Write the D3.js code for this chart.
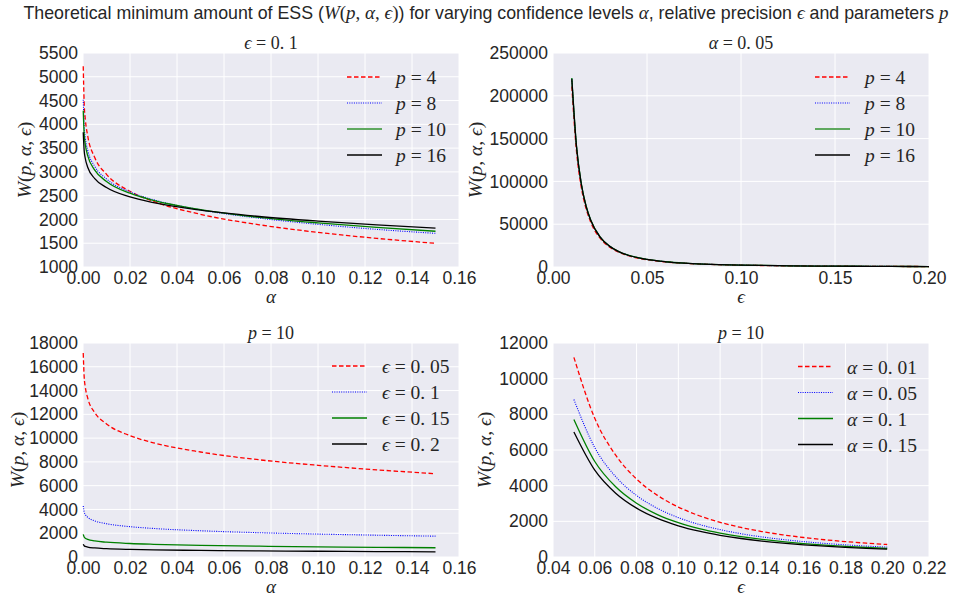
<!DOCTYPE html>
<html>
<head>
<meta charset="utf-8">
<script src="https://cdn.jsdelivr.net/npm/d3@7/dist/d3.min.js"></script>
<style>
  html, body { margin: 0; padding: 0; background: #ffffff; }
  svg { display: block; }
  .tick text { font-family: "Liberation Sans", Arial, sans-serif; font-size: 17.5px; fill: #262626; }
  .math { font-family: "Liberation Serif", "DejaVu Serif", serif; fill: #262626; }
</style>
</head>
<body>
<svg id="fig" width="957" height="596"></svg>
<script>
// ---- data ----
// confidence levels alpha used along the x axis of the left panels
const alphaGrid = [0.0001, 0.0005, 0.001, 0.002, 0.005, 0.01, 0.02, 0.03, 0.05, 0.075, 0.1, 0.125, 0.15];
// panel A: epsilon = 0.1, one curve per p
const essP4 = [5223, 4443, 4102, 3759, 3301, 2949, 2592, 2379, 2108, 1888, 1728, 1602, 1498];
const essP8 = [4518, 3956, 3708, 3456, 3116, 2852, 2579, 2414, 2201, 2027, 1897, 1791, 1708];
const essP10 = [4288, 3789, 3568, 3343, 3037, 2799, 2552, 2401, 2208, 2044, 1928, 1833, 1752];
const essP16 = [3835, 3447, 3276, 3099, 2860, 2671, 2473, 2353, 2195, 2062, 1965, 1885, 1818];

// relative precision epsilon used along the x axis of panel B
const epsGridB = [0.01, 0.0125, 0.015, 0.0175, 0.02, 0.025, 0.03, 0.035, 0.04, 0.05, 0.06, 0.07, 0.08, 0.1, 0.12, 0.14, 0.16, 0.18, 0.2];
// panel B: alpha = 0.05
const essBP4 = [210800, 134912, 93689, 68832, 52700, 33728, 23422, 17208, 13175, 8432, 5856, 4302, 3294, 2108, 1464, 1076, 823, 651, 527];
const essBP8 = [220100, 140864, 97822, 71869, 55025, 35216, 24456, 17967, 13756, 8804, 6114, 4492, 3439, 2201, 1528, 1123, 860, 679, 550];
const essBP10 = [220800, 141312, 98133, 72098, 55200, 35328, 24533, 18024, 13800, 8832, 6133, 4506, 3450, 2208, 1533, 1127, 863, 681, 552];
const essBP16 = [219500, 140480, 97556, 71673, 54875, 35120, 24389, 17918, 13719, 8780, 6097, 4480, 3430, 2195, 1524, 1120, 857, 677, 549];

// panel C: p = 10, one curve per epsilon
const essE05 = [17152, 15156, 14272, 13372, 12148, 11196, 10208, 9604, 8832, 8176, 7712, 7332, 7008];
const essE10 = [4288, 3789, 3568, 3343, 3037, 2799, 2552, 2401, 2208, 2044, 1928, 1833, 1752];
const essE15 = [1906, 1684, 1586, 1486, 1350, 1244, 1134, 1067, 981, 908, 857, 815, 779];
const essE20 = [1072, 947, 892, 836, 759, 700, 638, 600, 552, 511, 482, 458, 438];

// panel D: p = 10, one curve per alpha
const epsGridD = [0.05, 0.06, 0.07, 0.08, 0.09, 0.1, 0.11, 0.12, 0.13, 0.14, 0.15, 0.16, 0.17, 0.18, 0.19, 0.2];
const essA01 = [11196, 7775, 5712, 4373, 3456, 2799, 2313, 1944, 1656, 1428, 1244, 1093, 968, 864, 775, 700];
const essA05 = [8832, 6133, 4506, 3450, 2726, 2208, 1825, 1533, 1306, 1127, 981, 862, 764, 681, 612, 552];
const essA10 = [7712, 5356, 3935, 3013, 2380, 1928, 1593, 1339, 1141, 984, 857, 753, 667, 595, 534, 482];
const essA15 = [7008, 4867, 3576, 2738, 2163, 1752, 1448, 1217, 1037, 894, 779, 684, 606, 541, 485, 438];

// legend labels: [variable, value]
const legendA = [["p", "4"], ["p", "8"], ["p", "10"], ["p", "16"]];
const legendC = [["ϵ", "0. 05"], ["ϵ", "0. 1"], ["ϵ", "0. 15"], ["ϵ", "0. 2"]];
const legendD = [["α", "0. 01"], ["α", "0. 05"], ["α", "0. 1"], ["α", "0. 15"]];

// ---- styles for the four series ----
const styles = [
  { color: "#ff0000", dash: "4.5,2.5", width: 1.3 },
  { color: "#0000ff", dash: "1,1.3", width: 1.1 },
  { color: "#008000", dash: null, width: 1.3 },
  { color: "#000000", dash: null, width: 1.3 }
];

const panels = [
  { left: 83, top: 53, right: 459, bottom: 267,
    xDomain: [0, 0.16], xStep: 0.02, xFmt: ".2f",
    yDomain: [1000, 5500], yStep: 500,
    x: alphaGrid, series: [essP4, essP8, essP10, essP16],
    title: ["ϵ", "0. 1"], xlab: "α", legend: legendA,
    legX: 347, legY: 77, legDx: 49, ylabX: 25, softGreen: true },
  { left: 553, top: 53, right: 929, bottom: 267,
    xDomain: [0, 0.2], xStep: 0.05, xFmt: ".2f",
    yDomain: [0, 250000], yStep: 50000,
    x: epsGridB, series: [essBP4, essBP8, essBP10, essBP16],
    title: ["α", "0. 05"], xlab: "ϵ", legend: legendA,
    legX: 815, legY: 77, legDx: 50, ylabX: 476, softGreen: true },
  { left: 83, top: 343, right: 459, bottom: 557,
    xDomain: [0, 0.16], xStep: 0.02, xFmt: ".2f",
    yDomain: [0, 18000], yStep: 2000,
    x: alphaGrid, series: [essE05, essE10, essE15, essE20],
    title: ["p", "10"], xlab: "α", legend: legendC,
    legX: 332, legY: 366, legDx: 50, ylabX: 18, softGreen: false },
  { left: 553, top: 343, right: 929, bottom: 557,
    xDomain: [0.04, 0.22], xStep: 0.02, xFmt: ".2f",
    yDomain: [0, 12000], yStep: 2000,
    x: epsGridD, series: [essA01, essA05, essA10, essA15],
    title: ["p", "10"], xlab: "ϵ", legend: legendD,
    legX: 798, legY: 366.5, legDx: 49, ylabX: 485, softGreen: false }
];

const svg = d3.select("#fig");

// figure title with inline math
const title = svg.append("text")
  .attr("x", 486).attr("y", 19)
  .attr("text-anchor", "middle")
  .style("font-family", "'Liberation Sans', Arial, sans-serif")
  .style("font-size", "17.8px")
  .style("fill", "#262626");
const mathSpan = (sel, t, italic) => sel.append("tspan")
  .style("font-family", "'Liberation Serif', 'DejaVu Serif', serif")
  .style("font-style", italic ? "italic" : "normal")
  .style("font-size", "19px")
  .text(t);
title.append("tspan").text("Theoretical minimum amount of ESS (");
mathSpan(title, "W", true); mathSpan(title, "(", false); mathSpan(title, "p", true);
mathSpan(title, ", ", false); mathSpan(title, "α", true); mathSpan(title, ", ", false);
mathSpan(title, "ϵ", true); mathSpan(title, ")", false);
title.append("tspan").text(") for varying confidence levels ");
mathSpan(title, "α", true);
title.append("tspan").text(", relative precision ");
mathSpan(title, "ϵ", true);
title.append("tspan").text(" and parameters ");
mathSpan(title, "p", true);

function eqText(g, x, y, anchor, v, val, size) {
  const t = g.append("text").attr("class", "math")
    .attr("x", x).attr("y", y).attr("text-anchor", anchor)
    .style("font-size", size + "px");
  t.append("tspan").style("font-style", "italic").text(v);
  t.append("tspan").text(" = " + val);
  return t;
}

panels.forEach(P => {
  const g = svg.append("g");
  const x = d3.scaleLinear().domain(P.xDomain).range([P.left, P.right]);
  const y = d3.scaleLinear().domain(P.yDomain).range([P.bottom, P.top]);
  const xt = d3.range(P.xDomain[0], P.xDomain[1] + P.xStep / 2, P.xStep).map(v => +v.toFixed(6));
  const yt = d3.range(P.yDomain[0], P.yDomain[1] + P.yStep / 2, P.yStep);

  // plot background
  g.append("rect").attr("x", P.left).attr("y", P.top)
    .attr("width", P.right - P.left).attr("height", P.bottom - P.top)
    .attr("fill", "#eaeaf2");

  // grid
  g.append("g").selectAll("line.gx").data(xt).join("line")
    .attr("x1", d => x(d)).attr("x2", d => x(d))
    .attr("y1", P.top).attr("y2", P.bottom)
    .attr("stroke", "#ffffff").attr("stroke-width", 1);
  g.append("g").selectAll("line.gy").data(yt).join("line")
    .attr("x1", P.left).attr("x2", P.right)
    .attr("y1", d => y(d)).attr("y2", d => y(d))
    .attr("stroke", "#ffffff").attr("stroke-width", 1);

  // axes (labels only, no tick marks or spines)
  const xa = g.append("g").attr("transform", `translate(0,${P.bottom})`)
    .call(d3.axisBottom(x).tickValues(xt).tickFormat(d3.format(P.xFmt)).tickSize(0).tickPadding(5));
  xa.select(".domain").remove();
  const ya = g.append("g").attr("transform", `translate(${P.left},0)`)
    .call(d3.axisLeft(y).tickValues(yt).tickFormat(d3.format("d")).tickSize(0).tickPadding(5));
  ya.select(".domain").remove();

  // curves
  const line = d3.line().curve(d3.curveMonotoneX);
  P.series.forEach((vals, i) => {
    const s = styles[i];
    g.append("path")
      .attr("d", line(P.x.map((xv, k) => [x(xv), y(vals[k])])))
      .attr("fill", "none")
      .attr("stroke", s.color)
      .attr("stroke-width", s.width)
      .attr("stroke-dasharray", s.dash);
  });

  // panel title
  eqText(g, (P.left + P.right) / 2, P.top - 4, "middle", P.title[0], P.title[1], 18);

  // axis labels
  g.append("text").attr("class", "math")
    .attr("x", (P.left + P.right) / 2).attr("y", P.bottom + 36)
    .attr("text-anchor", "middle")
    .style("font-size", "19px").style("font-style", "italic")
    .text(P.xlab);
  const yl = g.append("text").attr("class", "math")
    .attr("transform", `translate(${P.ylabX + 6},${(P.top + P.bottom) / 2}) rotate(-90)`)
    .attr("text-anchor", "middle")
    .style("font-size", "19.5px");
  yl.append("tspan").style("font-style", "italic").text("W");
  yl.append("tspan").text("(");
  yl.append("tspan").style("font-style", "italic").text("p");
  yl.append("tspan").text(", ");
  yl.append("tspan").style("font-style", "italic").text("α");
  yl.append("tspan").text(", ");
  yl.append("tspan").style("font-style", "italic").text("ϵ");
  yl.append("tspan").text(")");

  // legend
  P.legend.forEach((item, i) => {
    const ly = P.legY + i * 26;
    const s = styles[i];
    const soft = P.softGreen && i === 2;
    g.append("line")
      .attr("x1", P.legX).attr("x2", P.legX + 35)
      .attr("y1", ly).attr("y2", ly)
      .attr("stroke", soft ? "#5fa85f" : s.color)
      .attr("stroke-width", soft ? 2.2 : s.width)
      .attr("stroke-dasharray", s.dash);
    eqText(g, P.legX + P.legDx, ly + 7, "start", item[0], item[1], 19.5);
  });
});
</script>
</body>
</html>
